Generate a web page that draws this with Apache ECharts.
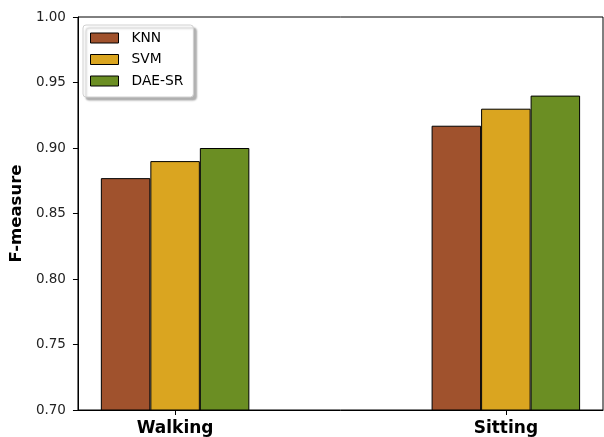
<!DOCTYPE html>
<html>
<head>
<meta charset="utf-8">
<script src="https://cdn.jsdelivr.net/npm/echarts@6/dist/echarts.min.js"></script>
<style>html,body{margin:0;padding:0;background:#fff;}#c{width:604px;height:437px;}</style>
</head>
<body>
<div id="c"></div>
<script>
const categories = ['Walking', 'Sitting'];
const seriesNames = ['KNN', 'SVM', 'DAE-SR'];
const knn = [0.877, 0.917];
const svm = [0.890, 0.930];
const daeSr = [0.900, 0.940];
const yTicks = [0.70, 0.75, 0.80, 0.85, 0.90, 0.95, 1.00];
const colors = ['#A0522D', '#DAA520', '#6B8E23'];

const chart = echarts.init(document.getElementById('c'), null, {renderer: 'canvas'});
const font = 'DejaVu Sans';
const values = [knn, svm, daeSr];
const series = seriesNames.map((name, i) => ({
  name: name,
  type: 'bar',
  barWidth: 49.5,
  barGap: '0%',
  data: values[i].map((v, j) => [j, v]),
  itemStyle: {color: colors[i], borderColor: '#000', borderWidth: 1}
}));

chart.setOption({
  animation: false,
  textStyle: {fontFamily: font},
  grid: {left: 76, right: 1, top: 17, bottom: 27, show: true, borderColor: '#000', borderWidth: 1, backgroundColor: 'transparent'},
  legend: {
    left: 83, top: 25, orient: 'vertical',
    data: seriesNames,
    icon: 'rect',
    itemWidth: 28, itemHeight: 10, itemGap: 7.5,
    padding: [6, 10, 9, 7],
    backgroundColor: '#fff',
    borderColor: '#d0d0d0', borderWidth: 1, borderRadius: 3,
    shadowColor: 'rgba(0,0,0,0.3)', shadowBlur: 2, shadowOffsetX: 3, shadowOffsetY: 3,
    textStyle: {fontFamily: font, fontSize: 13.8, color: '#000', padding: [0, 0, 0, 8]},
    itemStyle: {borderColor: '#000', borderWidth: 1}
  },
  xAxis: {
    type: 'value', min: -0.2937, max: 1.2937,
    splitLine: {show: false},
    axisLine: {show: true, onZero: false, lineStyle: {color: '#000', width: 1}},
    axisTick: {show: true, length: 5, lineStyle: {color: '#000', width: 1}, customValues: [0, 1]},
    axisLabel: {customValues: [0, 1], formatter: v => categories[Math.round(v)], fontFamily: font, fontSize: 17, fontWeight: 'bold', color: '#000', margin: 10}
  },
  yAxis: {
    type: 'value', min: 0.70, max: 1.00, interval: 0.05,
    name: 'F-measure', nameLocation: 'middle', nameGap: 48,
    nameTextStyle: {fontFamily: font, fontSize: 16.5, fontWeight: 'bold', color: '#000'},
    splitLine: {show: false},
    axisLine: {show: true, onZero: false, lineStyle: {color: '#000', width: 1}},
    axisTick: {show: true, length: 5, lineStyle: {color: '#000'}},
    axisLabel: {customValues: yTicks, formatter: v => v.toFixed(2), fontFamily: font, fontSize: 13.5, color: '#222', margin: 12}
  },
  series: series
});
</script>
</body>
</html>
